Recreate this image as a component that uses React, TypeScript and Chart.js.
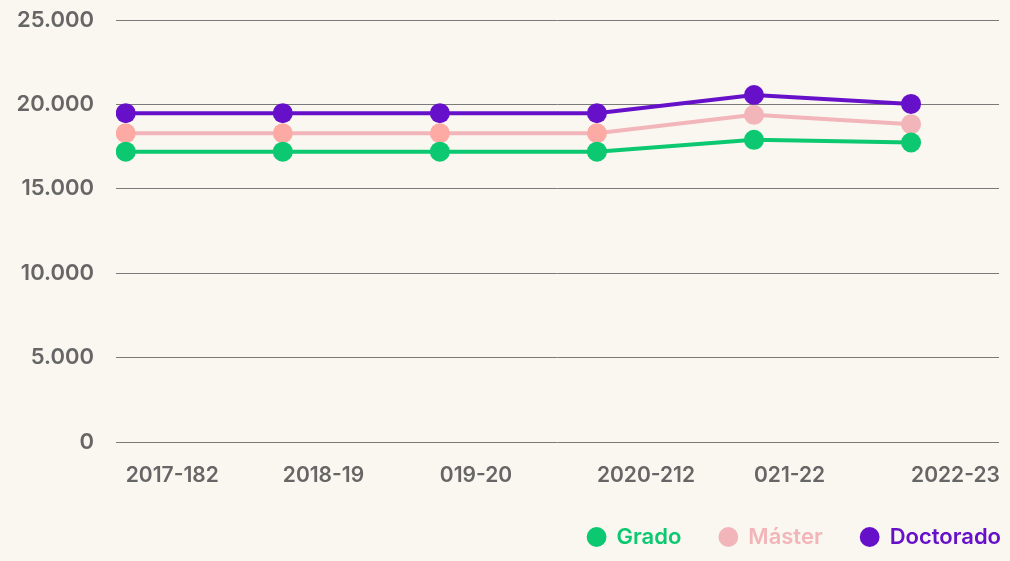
import { useEffect, useRef } from "react";
import { Chart, registerables } from "chart.js";

Chart.register(...registerables);

const categories = ["2017-182", "2018-19", "019-20", "2020-212", "021-22", "2022-23"];
const gradoValues = [17200, 17200, 17200, 17200, 17900, 17740];
const masterValues = [18290, 18290, 18290, 18290, 19380, 18830];
const doctoradoValues = [19480, 19480, 19480, 19480, 20560, 20030];
const yTickValues = [0, 5000, 10000, 15000, 20000, 25000];
const seriesNames = ["Grado", "Máster", "Doctorado"];

const GREEN = "#0cc870";
const PINK = "#f2b5b9";
const SALMON = "#fcaaa3";
const PURPLE = "#6610c9";
const TEXT = "#666666";
const BG = "#faf7f0";

const fmt = (v: number) => String(v).replace(/\B(?=(\d{3})+(?!\d))/g, ".");

const legendShift = {
  id: "legendShift",
  afterLayout(chart: any) {
    const lg = chart.legend;
    if (!lg) return;
    const pad = lg.options.labels.padding;
    const dx = 1001 + pad - lg.right;
    lg.left += dx;
    lg.right += dx;
    lg.top += 2;
    lg.bottom = lg.top + 200;
    lg.height = 200;
  },
};

export default function App() {
  const ref = useRef<HTMLCanvasElement | null>(null);

  useEffect(() => {
    if (!ref.current) return;
    const toPts = (arr: number[]) => arr.map((y, i) => ({ x: i, y }));
    const legendColors = [GREEN, PINK, PURPLE];
    const chart = new Chart(ref.current, {
      type: "line",
      data: {
        datasets: [
          {
            label: seriesNames[0],
            data: toPts(gradoValues),
            borderColor: GREEN,
            backgroundColor: GREEN,
            pointBackgroundColor: GREEN,
          },
          {
            label: seriesNames[1],
            data: toPts(masterValues),
            borderColor: PINK,
            backgroundColor: PINK,
            pointBackgroundColor: [SALMON, SALMON, SALMON, SALMON, PINK, PINK],
          },
          {
            label: seriesNames[2],
            data: toPts(doctoradoValues),
            borderColor: PURPLE,
            backgroundColor: PURPLE,
            pointBackgroundColor: PURPLE,
          },
        ],
      },
      plugins: [legendShift],
      options: {
        animation: false,
        responsive: true,
        maintainAspectRatio: false,
        layout: { padding: { top: 20, right: 11, left: 0, bottom: 15 } },
        elements: {
          line: { borderWidth: 4, tension: 0 },
          point: { radius: 10, hoverRadius: 10, borderWidth: 0 },
        },
        scales: {
          x: {
            type: "linear",
            min: -0.062,
            max: 5.56,
            afterBuildTicks: (s: any) => {
              s.ticks = categories.map((_, i) => ({ value: i }));
            },
            afterFit: (s: any) => {
              s.height = 44;
              s.paddingLeft = 0;
              s.paddingRight = 0;
            },
            grid: { display: false, drawTicks: false },
            border: { display: false },
            ticks: {
              align: "start",
              autoSkip: false,
              maxRotation: 0,
              padding: 21,
              color: TEXT,
              font: { family: "Inter", size: 21, weight: 600 },
              callback: (v: any) => categories[v] ?? "",
            },
          },
          y: {
            min: 0,
            max: 25000,
            afterBuildTicks: (s: any) => {
              s.ticks = yTickValues.map((v) => ({ value: v }));
            },
            afterFit: (s: any) => {
              s.width = 116;
              s.paddingTop = 0;
              s.paddingBottom = 0;
            },
            grid: { color: "#7a7a7a", lineWidth: 1, drawTicks: false },
            border: { display: false },
            ticks: {
              padding: 22,
              color: TEXT,
              font: { family: "Inter", size: 22, weight: 600 },
              callback: (v: any) => fmt(v),
            },
          },
        },
        plugins: {
          tooltip: { enabled: false },
          legend: {
            position: "bottom",
            align: "end",
            maxHeight: 60,
            labels: {
              usePointStyle: true,
              pointStyle: "circle",
              boxHeight: 14,
              boxWidth: 18,
              padding: 38,
              font: { family: "Inter", size: 22, weight: 600 },
              generateLabels: (c: any) =>
                c.data.datasets.map((d: any, i: number) => ({
                  text: d.label,
                  fillStyle: legendColors[i],
                  strokeStyle: legendColors[i],
                  fontColor: legendColors[i],
                  lineWidth: 0,
                  pointStyle: "circle",
                  hidden: false,
                  datasetIndex: i,
                })),
            },
          },
        },
      },
    } as any);
    return () => chart.destroy();
  }, []);

  return (
    <div
      style={{
        position: "fixed",
        left: 0,
        top: 0,
        width: 1010,
        height: 561,
        background: BG,
      }}
    >
      <canvas ref={ref} />
    </div>
  );
}
